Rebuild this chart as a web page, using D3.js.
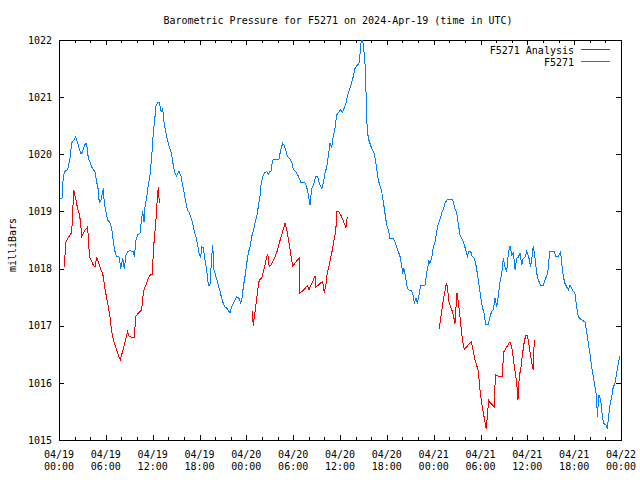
<!DOCTYPE html>
<html><head><meta charset="utf-8">
<script src="https://cdn.jsdelivr.net/npm/d3@7"></script>
<style>
body{margin:0;background:#fff}
svg{display:block}
text{font-family:"DejaVu Sans Mono","Liberation Mono",monospace;font-size:10px;fill:#000}
</style>
</head><body>
<svg id="chart" width="640" height="480"></svg>
<script>
const titleText = "Barometric Pressure for F5271 on 2024-Apr-19 (time in UTC)";
const yAxisLabel = "milliBars";
const seriesNames = ["F5271 Analysis", "F5271"];
const seriesColors = ["#ff0000", "#0080ff"];
const startUTC = Date.UTC(2024, 3, 19, 0, 0);
const spanHours = 72;
const yTicks = [1015, 1016, 1017, 1018, 1019, 1020, 1021, 1022];
const xMajorHours = [0, 6, 12, 18, 24, 30, 36, 42, 48, 54, 60, 66, 72];
const xMinorHours = d3.range(0, 73, 2);

// F5271 observations: hours after 2024-04-19 00:00 UTC, pressure (mb)
const obsHours = [0.13,0.38,0.55,0.77,1.11,1.41,1.63,1.92,2.14,2.34,
2.60,2.82,3.04,3.24,3.46,3.63,3.75,3.97,4.19,4.39,
4.61,4.78,5.03,5.16,5.38,5.55,5.68,5.80,6.02,6.24,
6.53,6.75,6.96,7.17,7.39,7.72,7.90,8.16,8.37,8.58,
8.80,9.10,9.52,9.65,9.86,10.08,10.38,10.59,10.72,10.89,
11.02,11.24,11.44,11.66,11.88,12.08,12.30,12.39,12.64,12.85,
13.07,13.29,13.41,13.71,14.00,14.22,14.44,14.64,14.86,15.08,
15.37,15.63,15.80,16.01,16.23,16.44,16.69,16.91,17.13,17.33,
17.55,17.77,17.97,18.15,18.28,18.49,18.70,18.92,19.13,19.34,
19.56,19.69,19.86,20.11,20.41,20.63,20.84,21.05,21.27,21.56,
21.91,22.12,22.33,22.55,22.76,23.06,23.28,23.48,23.61,23.83,
24.05,24.25,24.47,24.69,24.89,25.11,25.33,25.53,25.75,25.88,
26.10,26.30,26.61,26.81,27.03,27.16,27.38,27.68,28.18,28.40,
28.66,28.82,29.04,29.25,29.50,29.81,30.02,30.32,30.58,30.78,
31.00,31.51,31.73,31.94,32.16,32.37,32.58,32.89,33.14,33.35,
33.66,33.86,34.08,34.30,34.50,34.72,34.94,35.14,35.36,35.58,
35.78,36.09,36.29,36.51,36.77,36.93,37.19,37.41,37.70,37.92,
38.21,38.43,38.56,38.69,38.82,38.98,39.20,39.33,39.42,39.62,
39.84,40.06,40.35,40.57,40.70,40.90,41.34,41.55,41.76,41.98,
42.19,42.40,42.83,43.04,43.26,43.47,43.69,43.90,44.03,44.20,
44.42,44.55,44.75,45.19,45.39,45.52,45.74,45.90,46.16,46.34,
46.89,47.18,47.40,47.53,47.75,47.95,48.17,48.39,48.59,48.81,
49.03,49.23,49.45,49.74,50.44,50.73,50.95,51.15,51.37,51.59,
51.80,52.10,52.31,52.52,52.74,52.95,53.17,53.38,53.59,53.81,
54.02,54.23,54.45,54.66,55.00,55.22,55.43,55.64,55.86,56.08,
56.28,56.50,56.72,56.92,57.14,57.36,57.57,57.79,58.01,58.21,
58.43,58.64,58.85,59.06,59.28,59.48,59.70,59.92,60.21,60.43,
60.63,60.76,60.98,61.20,61.40,61.71,62.04,62.35,62.61,62.81,
62.90,63.41,63.67,63.96,64.27,64.40,64.61,64.82,65.04,65.25,
65.46,65.68,65.88,66.10,66.32,66.52,66.96,67.38,67.60,67.81,
68.02,68.24,68.45,68.67,68.88,68.96,69.18,69.40,69.52,69.65,
69.82,70.08,70.24,70.46,70.59,70.81,71.01,71.23,71.45,71.65,71.87];
const obsPressure = [1019.22,1019.22,1019.61,1019.70,1019.73,1019.94,1020.20,1020.25,1020.31,1020.22,
1020.10,1020.00,1020.05,1020.15,1020.20,1020.10,1019.93,1019.87,1019.78,1019.73,
1019.70,1019.55,1019.38,1019.15,1019.20,1019.32,1019.41,1019.15,1018.99,1018.85,
1018.80,1018.71,1018.47,1018.30,1018.21,1018.20,1018.00,1018.18,1018.00,1018.24,
1018.30,1018.31,1018.30,1018.20,1018.50,1018.59,1018.62,1018.88,1019.00,1018.82,
1019.08,1019.26,1019.46,1019.64,1019.96,1020.37,1020.66,1020.83,1020.90,1020.90,
1020.75,1020.80,1020.60,1020.37,1020.19,1020.10,1019.99,1019.81,1019.67,1019.62,
1019.70,1019.62,1019.49,1019.35,1019.17,1019.03,1018.98,1018.88,1018.79,1018.65,
1018.56,1018.41,1018.24,1018.20,1018.38,1018.37,1018.15,1017.98,1017.71,1017.71,
1018.21,1018.41,1017.98,1017.86,1017.71,1017.60,1017.48,1017.39,1017.33,1017.30,
1017.22,1017.33,1017.39,1017.45,1017.51,1017.48,1017.40,1017.51,1017.68,1017.86,
1018.09,1018.27,1018.38,1018.56,1018.65,1018.79,1018.91,1019.08,1019.26,1019.46,
1019.61,1019.67,1019.70,1019.64,1019.70,1019.71,1019.90,1019.91,1019.91,1020.08,
1020.19,1020.16,1020.08,1019.97,1019.93,1019.87,1019.73,1019.70,1019.64,1019.58,
1019.50,1019.50,1019.43,1019.29,1019.11,1019.40,1019.46,1019.61,1019.61,1019.49,
1019.40,1019.49,1019.67,1019.78,1019.96,1020.19,1020.13,1020.31,1020.45,1020.69,
1020.73,1020.78,1020.73,1020.80,1020.89,1021.01,1021.13,1021.21,1021.36,1021.50,
1021.56,1021.59,1021.74,1021.94,1022.00,1021.94,1021.59,1021.10,1020.60,1020.28,
1020.19,1020.10,1020.02,1019.87,1019.75,1019.55,1019.35,1019.17,1018.97,1018.76,
1018.68,1018.53,1018.53,1018.47,1018.38,1018.30,1018.21,1018.06,1017.91,1018.00,
1017.83,1017.71,1017.63,1017.61,1017.52,1017.39,1017.48,1017.39,1017.57,1017.70,
1017.71,1017.98,1018.14,1018.09,1018.18,1018.38,1018.47,1018.65,1018.79,1018.86,
1018.97,1019.04,1019.14,1019.21,1019.21,1019.05,1018.97,1018.79,1018.59,1018.53,
1018.47,1018.33,1018.21,1018.30,1018.30,1018.21,1018.18,1018.09,1017.92,1017.71,
1017.51,1017.33,1017.22,1017.03,1017.03,1017.16,1017.25,1017.28,1017.48,1017.33,
1017.51,1017.77,1017.90,1018.18,1018.03,1017.95,1018.27,1018.40,1018.24,1018.27,
1017.98,1018.18,1018.20,1018.27,1018.06,1018.18,1018.20,1018.30,1018.18,1018.03,
1018.24,1018.40,1018.18,1017.92,1017.80,1017.71,1017.71,1017.83,1017.92,1018.21,
1018.30,1018.30,1018.21,1018.21,1018.30,1018.09,1017.86,1017.74,1017.68,1017.63,
1017.71,1017.65,1017.60,1017.57,1017.33,1017.16,1017.10,1017.07,1016.90,1016.69,
1016.52,1016.28,1016.11,1015.93,1015.76,1015.41,1015.79,1015.70,1015.53,1015.38,
1015.29,1015.26,1015.20,1015.47,1015.61,1015.76,1015.93,1015.99,1016.17,1016.34,1016.46];

// F5271 Analysis: three runs (hours, pressure)
const anaHours1 = [0.64,0.77,0.90,1.11,1.32,1.63,1.76,1.88,2.01,2.18,
2.34,2.56,2.73,2.91,3.11,3.33,3.55,3.68,3.75,3.93,
4.19,4.39,4.61,4.83,5.03,5.25,5.47,5.68,5.89,6.11,
6.32,6.53,6.75,6.96,7.17,7.39,7.60,7.85,8.03,8.24,
8.46,8.67,8.80,8.97,9.31,9.65,9.83,10.08,10.38,10.59,
10.72,10.93,11.15,11.36,11.57,11.79,11.95,12.08,12.21,12.39,
12.52,12.59,12.72,12.85];
const anaPressure1 = [1018.02,1018.24,1018.47,1018.53,1018.57,1018.63,1019.00,1019.38,1019.29,1019.20,
1019.08,1018.97,1018.85,1018.56,1018.62,1018.68,1018.70,1018.75,1018.50,1018.20,
1018.12,1018.06,1018.03,1018.20,1018.12,1018.03,1017.95,1017.86,1017.65,1017.48,
1017.33,1017.16,1016.90,1016.75,1016.66,1016.58,1016.49,1016.40,1016.49,1016.60,
1016.72,1016.84,1016.90,1016.82,1016.80,1016.80,1017.16,1017.21,1017.25,1017.28,
1017.48,1017.65,1017.71,1017.80,1017.86,1017.90,1017.90,1018.27,1018.53,1018.79,
1019.05,1019.23,1019.43,1019.15];
const anaHours2 = [24.76,24.89,25.02,25.20,25.33,25.46,25.62,25.75,25.97,26.17,
26.39,26.61,26.74,26.94,27.16,27.45,27.67,27.89,28.09,28.31,
28.53,28.73,28.95,29.17,29.37,29.59,29.81,29.94,30.23,30.53,
30.78,30.87,31.22,31.51,31.81,32.03,32.28,32.58,32.80,32.92,
33.22,33.53,33.78,33.99,34.21,34.37,34.63,34.85,35.06,35.23,
35.45,35.61,35.83,36.09,36.34,36.55,36.77,36.93];
const anaPressure2 = [1017.25,1017.00,1017.16,1017.33,1017.48,1017.63,1017.77,1017.81,1017.83,1017.95,
1018.06,1018.20,1018.26,1018.03,1018.06,1018.14,1018.20,1018.28,1018.37,1018.49,
1018.59,1018.69,1018.79,1018.69,1018.53,1018.35,1018.15,1018.05,1018.09,1018.15,
1018.18,1017.57,1017.61,1017.65,1017.70,1017.63,1017.71,1017.80,1017.87,1017.68,
1017.71,1017.75,1017.77,1017.57,1017.74,1017.92,1018.06,1018.22,1018.35,1018.50,
1018.65,1019.00,1019.00,1018.94,1018.86,1018.79,1018.72,1018.90];
const anaHours3 = [48.72,48.90,49.10,49.32,49.54,49.67,49.80,49.96,50.18,50.39,
50.60,50.73,50.86,50.99,51.15,51.37,51.54,51.72,51.92,52.23,
52.52,52.82,53.07,53.29,53.51,53.72,53.93,54.15,54.36,54.57,
54.74,54.87,55.05,55.31,55.56,55.77,55.90,56.28,56.84,56.92,
57.14,57.36,57.56,57.78,58.00,58.20,58.42,58.64,58.80,58.97,
59.19,59.40,59.61,59.79,59.99,60.12,60.34,60.55,60.76,60.89];
const anaPressure3 = [1016.95,1017.13,1017.33,1017.51,1017.68,1017.75,1017.63,1017.42,1017.33,1017.25,
1017.13,1017.04,1017.33,1017.57,1017.42,1017.16,1016.93,1016.72,1016.59,1016.63,
1016.68,1016.72,1016.55,1016.41,1016.31,1016.20,1015.88,1015.64,1015.48,1015.32,
1015.19,1015.41,1015.69,1015.64,1015.61,1015.58,1016.14,1016.12,1016.11,1016.53,
1016.58,1016.63,1016.67,1016.72,1016.63,1016.43,1016.20,1015.99,1015.70,1016.11,
1016.28,1016.52,1016.72,1016.83,1016.83,1016.75,1016.55,1016.37,1016.23,1016.75];

const toDate = h => new Date(startUTC + h * 3600e3);
const svg = d3.select("#chart");
const L = 59, R = 621, T = 40, B = 440;

const x = d3.scaleUtc().domain([toDate(0), toDate(spanHours)]).range([L, R]);
const y = d3.scaleLinear().domain([1015, 1022]).range([B, T]);

svg.append("defs").append("clipPath").attr("id", "clip")
  .append("rect").attr("x", L).attr("y", T - 1).attr("width", R - L).attr("height", B - T + 2);

// ticks (inward, all four sides)
const minorDates = xMinorHours.map(toDate);
const majorDates = xMajorHours.map(toDate);
const noDomain = g => g.select(".domain").remove();
svg.append("g").attr("transform", `translate(0,${B})`)
  .call(d3.axisBottom(x).tickValues(minorDates).tickSize(-3).tickFormat("")).call(noDomain);
svg.append("g").attr("transform", `translate(0,${B})`)
  .call(d3.axisBottom(x).tickValues(majorDates).tickSize(-5).tickFormat("")).call(noDomain);
svg.append("g").attr("transform", `translate(0,${T})`)
  .call(d3.axisTop(x).tickValues(minorDates).tickSize(-3).tickFormat("")).call(noDomain);
svg.append("g").attr("transform", `translate(0,${T})`)
  .call(d3.axisTop(x).tickValues(majorDates).tickSize(-5).tickFormat("")).call(noDomain);
svg.append("g").attr("transform", `translate(${L},0)`)
  .call(d3.axisLeft(y).tickValues(yTicks).tickSize(-5).tickPadding(7).tickFormat(d3.format("d"))).call(noDomain)
  .selectAll("text").style("font-family", '"DejaVu Sans Mono",monospace').style("font-size", "10px");
svg.append("g").attr("transform", `translate(${R},0)`)
  .call(d3.axisRight(y).tickValues(yTicks).tickSize(-5).tickFormat("")).call(noDomain);
svg.selectAll(".tick line").attr("stroke", "#000").attr("shape-rendering", "crispEdges");

// x tick labels, two lines
const fmtDay = d3.utcFormat("%m/%d"), fmtTime = d3.utcFormat("%H:%M");
const xl = svg.append("g").selectAll("text").data(majorDates).join("text")
  .attr("text-anchor", "middle").attr("x", d => x(d));
xl.append("tspan").attr("x", d => x(d)).attr("y", 458).text(d => fmtDay(d));
xl.append("tspan").attr("x", d => x(d)).attr("y", 470).text(d => fmtTime(d));

// frame
svg.append("rect").attr("x", L + 0.5).attr("y", T + 0.5).attr("width", R - L).attr("height", B - T)
  .attr("fill", "none").attr("stroke", "#000").attr("shape-rendering", "crispEdges");

// lines
const line = d3.line().x(d => x(toDate(d[0]))).y(d => y(d[1]));
const plot = svg.append("g").attr("clip-path", "url(#clip)");
[[anaHours1, anaPressure1], [anaHours2, anaPressure2], [anaHours3, anaPressure3]].forEach(([hs, ps]) => {
  plot.append("path").datum(hs.map((h, i) => [h, ps[i]]))
    .attr("fill", "none").attr("stroke", seriesColors[0]).attr("stroke-width", 1)
    .attr("shape-rendering", "crispEdges")
    .attr("d", line);
});
plot.append("path").datum(obsHours.map((h, i) => [h, obsPressure[i]]))
  .attr("fill", "none").attr("stroke", seriesColors[1]).attr("stroke-width", 1)
  .attr("shape-rendering", "crispEdges")
  .attr("d", line);

// title
svg.append("text").attr("x", 338).attr("y", 24).attr("text-anchor", "middle").text(titleText);

// y label
svg.append("text").attr("transform", "translate(12,245) rotate(-90)")
  .attr("text-anchor", "middle").attr("dominant-baseline", "central").text(yAxisLabel);

// legend
const legend = svg.append("g");
seriesNames.forEach((name, i) => {
  const ly = 50 + i * 12;
  legend.append("text").attr("x", 574).attr("y", ly).attr("dy", "0.35em")
    .attr("text-anchor", "end").text(name);
  legend.append("line").attr("x1", 581).attr("x2", 610).attr("y1", ly - 0.5).attr("y2", ly - 0.5)
    .attr("stroke", seriesColors[i]).attr("stroke-width", 1).attr("shape-rendering", "crispEdges");
});
</script>
</body></html>
